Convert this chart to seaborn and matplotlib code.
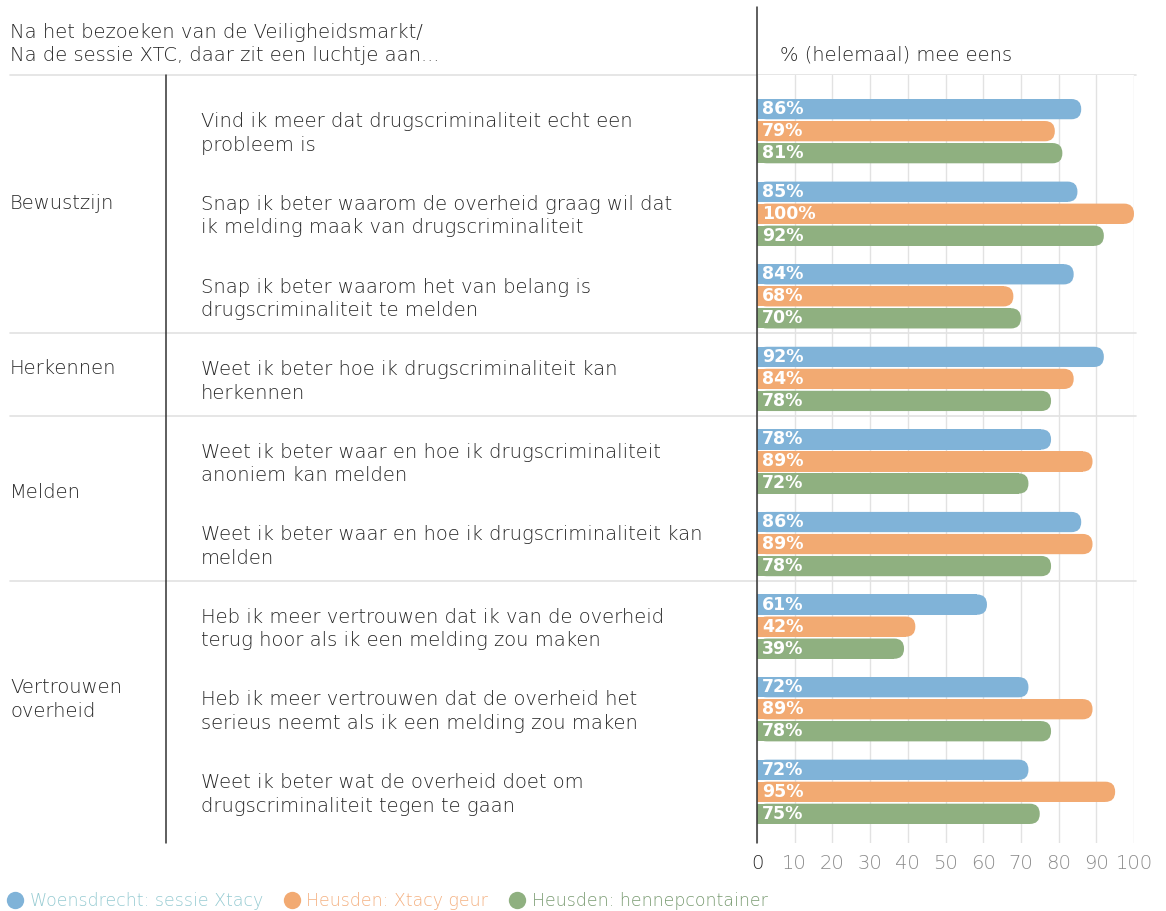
import matplotlib
matplotlib.use('Agg')
import matplotlib.pyplot as plt
import matplotlib.transforms as mtransforms
from matplotlib.patches import FancyBboxPatch, Rectangle
from matplotlib.lines import Line2D
import pandas as pd
import seaborn as sns

# Data
header = "Na het bezoeken van de Veiligheidsmarkt/\nNa de sessie XTC, daar zit een luchtje aan..."
axis_title = "% (helemaal) mee eens"

questions = [
    "Vind ik meer dat drugscriminaliteit echt een\nprobleem is",
    "Snap ik beter waarom de overheid graag wil dat\nik melding maak van drugscriminaliteit",
    "Snap ik beter waarom het van belang is\ndrugscriminaliteit te melden",
    "Weet ik beter hoe ik drugscriminaliteit kan\nherkennen",
    "Weet ik beter waar en hoe ik drugscriminaliteit\nanoniem kan melden",
    "Weet ik beter waar en hoe ik drugscriminaliteit kan\nmelden",
    "Heb ik meer vertrouwen dat ik van de overheid\nterug hoor als ik een melding zou maken",
    "Heb ik meer vertrouwen dat de overheid het\nserieus neemt als ik een melding zou maken",
    "Weet ik beter wat de overheid doet om\ndrugscriminaliteit tegen te gaan",
]
themes = ["Bewustzijn", "Herkennen", "Melden", "Vertrouwen\noverheid"]
theme_sizes = [3, 1, 2, 3]

locations = ["Woensdrecht: sessie Xtacy", "Heusden: Xtacy geur", "Heusden: hennepcontainer"]
woensdrecht = [86, 85, 84, 92, 78, 86, 61, 72, 72]
heusden_geur = [79, 100, 68, 84, 89, 89, 42, 89, 95]
heusden_hennep = [81, 92, 70, 78, 72, 78, 39, 78, 75]

bar_colors = ["#80b3d8", "#f2aa72", "#8fb080"]
legend_text_colors = ["#96cbd2", "#f4b080", "#789a70"]
text_color = "#262626"

df = pd.DataFrame({
    "vraag": questions * 3,
    "locatie": [locations[0]] * 9 + [locations[1]] * 9 + [locations[2]] * 9,
    "waarde": woensdrecht + heusden_geur + heusden_hennep,
})

sns.set_style("white")
plt.rcParams['font.family'] = ['DejaVu Sans']

W, H = 1166, 911
fig = plt.figure(figsize=(W / 100, H / 100), dpi=100)
ax = fig.add_axes([757 / W, 1 - 843 / H, (1134 - 757) / W, (843 - 75) / H])

sns.barplot(data=df, y="vraag", x="waarde", hue="locatie", orient="h",
            palette=bar_colors, width=0.8, gap=0.08, legend=False,
            saturation=1, ax=ax)

ax.set_xlim(0, 100)
ax.set_ylim(8.62, -0.68)

# rounded bar ends
xr = 2.6  # rounding in x units
px_y = (843 - 75) / 9.3
aspect = (10 / px_y) / xr
bars = [p for p in ax.patches]
for p in bars:
    x0, y0 = p.get_x(), p.get_y()
    w, h = p.get_width(), p.get_height()
    col = p.get_facecolor()
    p.remove()
    ax.add_patch(FancyBboxPatch((x0, y0), w, h,
                                boxstyle=f"round,pad=0,rounding_size={xr}",
                                mutation_aspect=aspect, facecolor=col,
                                edgecolor='none', zorder=3))
    ax.add_patch(Rectangle((x0, y0), max(w - xr, 0), h, facecolor=col,
                           edgecolor='none', zorder=3))
    ax.text(1.4, y0 + h / 2, f"{w:.0f}%", color="white", fontsize=12.5,
            fontweight="bold", va="center", ha="left", zorder=4)

ax.set_yticks([])
ax.set_ylabel("")
ax.set_xlabel("")
ax.set_xticks(range(0, 101, 10))
ax.set_xticklabels([str(v) for v in range(0, 101, 10)], fontsize=14,
                   fontweight="light")
for i, lab in enumerate(ax.get_xticklabels()):
    lab.set_color(text_color if i == 0 else "#8a8a8a")
ax.tick_params(axis='x', length=0, pad=8)
ax.grid(axis='x', color='#e2e2e2', linewidth=1)
ax.set_axisbelow(True)
for s in ax.spines.values():
    s.set_visible(False)

# lines and labels in figure space
blend = mtransforms.blended_transform_factory(fig.transFigure, ax.transData)
fig.add_artist(Line2D([757 / W, 757 / W], [1 - 843 / H, 1 - 7 / H],
                      color="#333333", linewidth=1.1))
fig.add_artist(Line2D([166 / W, 166 / W], [1 - 843 / H, 1 - 75 / H],
                      color="#333333", linewidth=1.1))
fig.add_artist(Line2D([10 / W, 1136 / W], [1 - 75 / H, 1 - 75 / H],
                      color="#e2e2e2", linewidth=1.2, zorder=0))

start = 0
for theme, n in zip(themes, theme_sizes):
    mid = start + (n - 1) / 2
    ax.text(10 / W, mid - 0.12, theme, transform=blend, fontsize=14,
            fontweight="light", color=text_color, va="center", ha="left",
            linespacing=1.35)
    if start + n < len(questions):
        ax.plot([10 / W, 1136 / W], [start + n - 0.55] * 2, transform=blend,
                color="#e2e2e2", linewidth=1.2, clip_on=False, zorder=0)
    start += n

for i, q in enumerate(questions):
    ax.text(201 / W, i + 0.03, q, transform=blend, fontsize=14,
            fontweight="light", color=text_color, va="center", ha="left",
            linespacing=1.3)

fig.text(10 / W, 1 - 44 / H, header, fontsize=14, fontweight="light",
         color=text_color, va="center", ha="left", linespacing=1.3)
fig.text(780 / W, 1 - 55 / H, axis_title, fontsize=14, fontweight="light",
         color=text_color, va="center", ha="left")

handles = [Line2D([], [], marker='o', linestyle='none', markersize=12.5,
                  markerfacecolor=c, markeredgecolor='none') for c in bar_colors]
leg = fig.legend(handles, locations, loc='center left',
                 bbox_to_anchor=(2 / W, 1 - 901 / H), ncol=3, frameon=False,
                 borderpad=0, borderaxespad=0, handletextpad=0.1,
                 columnspacing=0.9, handlelength=1.5,
                 prop={'size': 12.5, 'weight': 'light'})
for t, c in zip(leg.get_texts(), legend_text_colors):
    t.set_color(c)

fig.savefig("out.png", dpi=100)
